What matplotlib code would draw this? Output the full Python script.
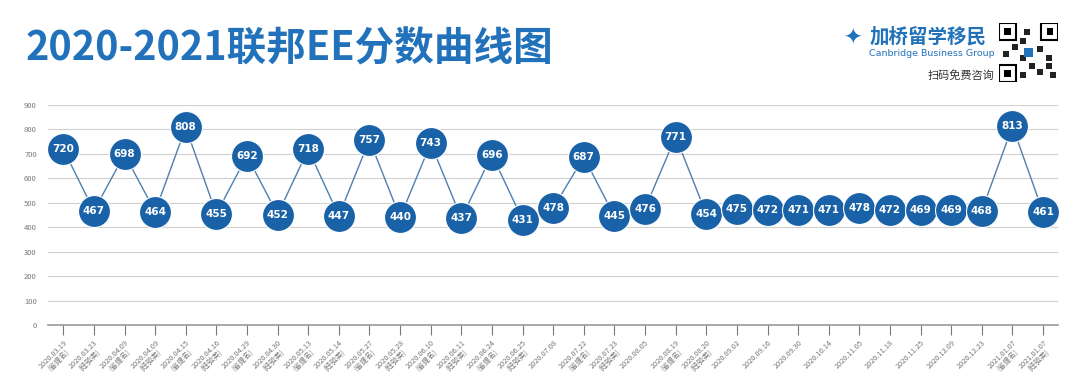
import matplotlib.pyplot as plt
import matplotlib.patches as mpatches
import numpy as np

plt.rcParams['font.family'] = ['Noto Sans CJK SC', 'DejaVu Sans']

# EE draw dates, draw type and CRS cut-off scores
dates = ['2020.03.19', '2020.03.23', '2020.04.09', '2020.04.09', '2020.04.15', '2020.04.16',
         '2020.04.29', '2020.04.30', '2020.05.13', '2020.05.14', '2020.05.27', '2020.05.28',
         '2020.06.10', '2020.06.11', '2020.06.24', '2020.06.25', '2020.07.08', '2020.07.22',
         '2020.07.23', '2020.08.05', '2020.08.19', '2020.08.20', '2020.09.02', '2020.09.16',
         '2020.09.30', '2020.10.14', '2020.11.05', '2020.11.18', '2020.11.25', '2020.12.09',
         '2020.12.23', '2021.01.07', '2021.01.07']
draw_type = ['省提名', '经验类', '省提名', '经验类', '省提名', '经验类', '省提名', '经验类',
             '省提名', '经验类', '省提名', '经验类', '省提名', '经验类', '省提名', '经验类',
             '', '省提名', '经验类', '', '省提名', '经验类', '', '', '', '', '', '', '', '', '',
             '省提名', '经验类']
scores = [720, 467, 698, 464, 808, 455, 692, 452, 718, 447, 757, 440, 743, 437, 696, 431,
          478, 687, 445, 476, 771, 454, 475, 472, 471, 471, 478, 472, 469, 469, 468, 813, 461]
y_ticks = [0, 100, 200, 300, 400, 500, 600, 700, 800, 900]

blue = '#1a62a8'
title_blue = '#2272bb'

fig = plt.figure(figsize=(10.8, 3.91), dpi=100)
ax = fig.add_axes([0.0444, 0.1688, 0.9356, 0.5627])

x = np.arange(len(scores))
ax.plot(x, scores, color='#4f7fae', lw=1.0, zorder=2)
ax.plot(x, scores, 'o', ms=23, color=blue, mec='white', mew=0.8, zorder=3)
for xi, s in zip(x, scores):
    ax.text(xi, s, str(s), color='white', fontsize=7.5, fontweight='bold',
            ha='center', va='center', zorder=4, family='DejaVu Sans')

ax.set_xlim(-0.5, len(scores) - 0.5)
ax.set_ylim(0, 900)
ax.set_yticks(y_ticks)
ax.set_yticklabels([str(v) for v in y_ticks], fontsize=5.5, color='#777777')
ax.yaxis.grid(True, color='#d0d0d0', lw=0.8)
ax.set_axisbelow(True)
ax.tick_params(axis='y', length=0, pad=8)

labels = [d + ('\n(' + t + ')' if t else '') for d, t in zip(dates, draw_type)]
ax.set_xticks(x)
ax.set_xticklabels(labels, fontsize=5.3, color='#777777', rotation=45, ha='right',
                   rotation_mode='anchor', linespacing=1.0, multialignment='center')
ax.tick_params(axis='x', length=7, width=0.8, color='#777777', direction='out', pad=3)

for side in ['top', 'right', 'left']:
    ax.spines[side].set_visible(False)
ax.spines['bottom'].set_color('#999999')
ax.spines['bottom'].set_linewidth(1.2)

# title
fig.text(0.024, 0.875, '2020-2021联邦EE分数曲线图', fontsize=28.5, fontweight='bold',
         color=title_blue, ha='left', va='center')

# brand block
fig.text(0.805, 0.905, '加桥留学移民', fontsize=14, fontweight='bold', color=title_blue,
         ha='left', va='center')
fig.text(0.805, 0.862, 'Canbridge Business Group', fontsize=6.8, color=title_blue,
         ha='left', va='center', family='DejaVu Sans')
fig.text(0.921, 0.808, '扫码免费咨询', fontsize=8, color='#333333', ha='right', va='center')
fig.text(0.789, 0.9, '✦', fontsize=16, color=title_blue, ha='center', va='center',
         family='DejaVu Sans')

# QR code placeholder
qax = fig.add_axes([0.925, 0.79, 0.055, 0.152])
qax.set_xlim(0, 7)
qax.set_ylim(0, 7)
qax.axis('off')
for (cx, cy) in [(0, 0), (0, 5), (5, 5)]:
    qax.add_patch(mpatches.Rectangle((cx, cy), 2, 2, fc='white', ec='black', lw=1.5))
    qax.add_patch(mpatches.Rectangle((cx + 0.6, cy + 0.6), 0.8, 0.8, fc='black'))
for (cx, cy) in [(2.5, 0.5), (3.5, 1.5), (2.5, 2.5), (4.5, 3.5), (5.5, 2.5), (3, 5.5),
                 (2.5, 4.5), (0.5, 3), (1.5, 3.8), (6, 0.5), (4.5, 0.8), (5.5, 1.5)]:
    qax.add_patch(mpatches.Rectangle((cx, cy), 0.7, 0.7, fc='#222222'))
qax.add_patch(mpatches.Rectangle((3, 3), 1, 1, fc=title_blue))

fig.savefig('out.png', dpi=100, facecolor='white')
